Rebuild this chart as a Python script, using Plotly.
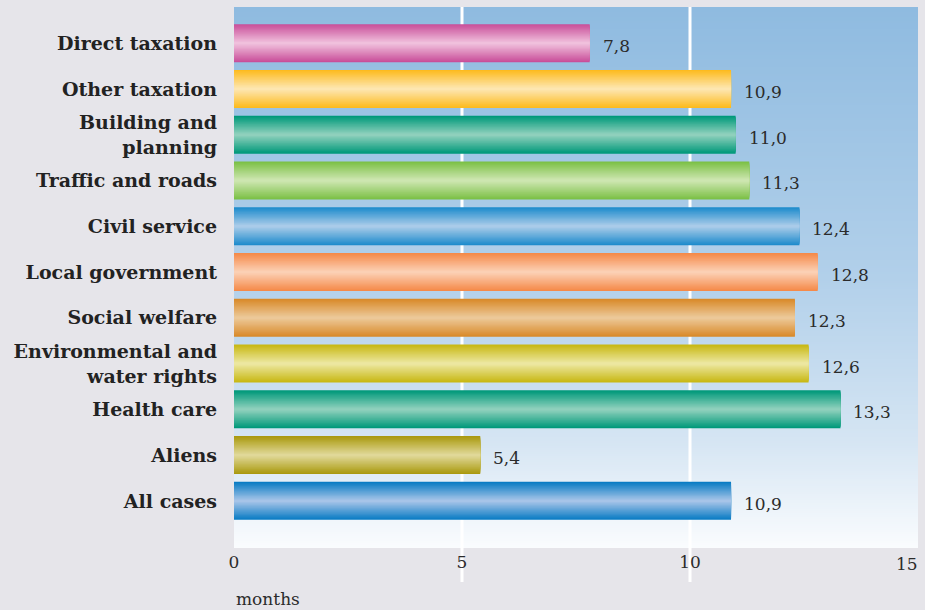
"""
Average processing time per case area, horizontal bar chart with shaded bars.
"""
import base64
import struct
import zlib
import plotly.graph_objects as go

categories = [
    "Direct taxation",
    "Other taxation",
    "Building and<br>planning",
    "Traffic and roads",
    "Civil service",
    "Local government",
    "Social welfare",
    "Environmental and<br>water rights",
    "Health care",
    "Aliens",
    "All cases",
]
months = [7.8, 10.9, 11.0, 11.3, 12.4, 12.8, 12.3, 12.6, 13.3, 5.4, 10.9]
value_labels = ["7,8", "10,9", "11,0", "11,3", "12,4", "12,8", "12,3", "12,6", "13,3", "5,4", "10,9"]
x_ticks = [0, 5, 10, 15]
x_tick_labels = ["0", "5", "10", "15"]

# edge colour and centre (highlight) colour of each bar
edge_colors = [
    (201, 79, 154), (253, 187, 31), (0, 153, 122), (124, 192, 70),
    (31, 140, 204), (245, 138, 74), (217, 138, 42), (200, 184, 20),
    (0, 153, 122), (170, 154, 16), (10, 124, 196),
]
center_colors = [
    (240, 192, 220), (253, 230, 176), (143, 208, 188), (205, 230, 176),
    (169, 203, 233), (251, 208, 180), (236, 200, 152), (236, 231, 160),
    (143, 208, 188), (224, 216, 152), (166, 196, 232),
]


def lerp(c1, c2, t):
    return tuple(round(a + (b - a) * t) for a, b in zip(c1, c2))


def gradient_png(stops, height=256, width=4):
    # tiny vertical gradient PNG, written by hand (no PIL needed)
    rows = []
    for i in range(height):
        t = i / (height - 1)
        for j in range(len(stops) - 1):
            t0, c0 = stops[j]
            t1, c1 = stops[j + 1]
            if t0 <= t <= t1:
                rgb = lerp(c0, c1, (t - t0) / (t1 - t0))
                break
        rows.append(b"\x00" + bytes(rgb) * width)
    raw = b"".join(rows)

    def chunk(tag, data):
        return (struct.pack(">I", len(data)) + tag + data
                + struct.pack(">I", zlib.crc32(tag + data) & 0xFFFFFFFF))

    png = (b"\x89PNG\r\n\x1a\n"
           + chunk(b"IHDR", struct.pack(">IIBBBBB", width, height, 8, 2, 0, 0, 0))
           + chunk(b"IDAT", zlib.compress(raw))
           + chunk(b"IEND", b""))
    return "data:image/png;base64," + base64.b64encode(png).decode()


bg_stops = [
    (0.0, (143, 187, 224)),
    (0.5, (178, 208, 234)),
    (0.8, (213, 229, 243)),
    (1.0, (250, 252, 254)),
]

fig = go.Figure()

# stacked layers of narrower, lighter bars give the cylinder shading
n_layers = 16
bar_width = 0.83
for k in range(n_layers):
    t = k / (n_layers - 1)
    colors = ["rgb(%d,%d,%d)" % lerp(e, c, t) for e, c in zip(edge_colors, center_colors)]
    fig.add_trace(go.Bar(
        x=months,
        y=categories,
        orientation="h",
        width=bar_width * (1 - k / n_layers),
        marker=dict(color=colors, line=dict(width=0)),
        hoverinfo="skip",
        showlegend=False,
    ))

serif = "DejaVu Serif"
text_font = dict(family=serif, size=17, color="#2b2b2b")

for cat, val, lab in zip(categories, months, value_labels):
    fig.add_annotation(
        x=val, y=cat, text=lab, showarrow=False,
        xanchor="left", yanchor="middle", xshift=11, yshift=-3,
        font=text_font,
    )

# white grid lines at 5 and 10, running down past the axis into the tick labels
for gx in x_ticks[1:-1]:
    fig.add_shape(
        type="line", xref="x", yref="paper",
        x0=gx, x1=gx, y0=-0.063, y1=1,
        line=dict(color="white", width=3), layer="below",
    )

# the last tick label sits at the right edge, so pull it inward by hand
fig.add_annotation(
    x=x_ticks[-1], y=0, xref="x", yref="paper", text=x_tick_labels[-1],
    showarrow=False, xanchor="right", yanchor="top", xshift=2, yshift=-4,
    font=text_font,
)

fig.add_annotation(
    text="months", xref="paper", yref="paper", x=0, y=-0.094,
    xanchor="left", yanchor="middle", showarrow=False,
    font=text_font,
)

fig.add_layout_image(
    source=gradient_png(bg_stops),
    xref="paper", yref="paper", x=0, y=1, sizex=1, sizey=1,
    xanchor="left", yanchor="top", sizing="stretch", layer="below",
)

fig.update_layout(
    width=925,
    height=610,
    margin=dict(l=234, r=7, t=7, b=62),
    barmode="overlay",
    paper_bgcolor="#e6e5ea",
    plot_bgcolor="rgba(0,0,0,0)",
    showlegend=False,
)
fig.update_xaxes(
    range=[0, 15],
    tickvals=x_ticks[:-1],
    ticktext=x_tick_labels[:-1],
    showgrid=False,
    zeroline=False,
    showline=False,
    ticks="",
    ticklabelstandoff=2,
    tickfont=text_font,
)
fig.update_yaxes(
    range=[10 + 1.03, -0.79],
    showgrid=False,
    zeroline=False,
    showline=False,
    ticks="",
    ticklabelstandoff=16,
    tickfont=dict(family=serif, size=19, color="#222222", weight="bold"),
)

fig.write_html(
    "out.html",
    config={"displayModeBar": False},
    post_script="document.body.style.margin='0';",
)
